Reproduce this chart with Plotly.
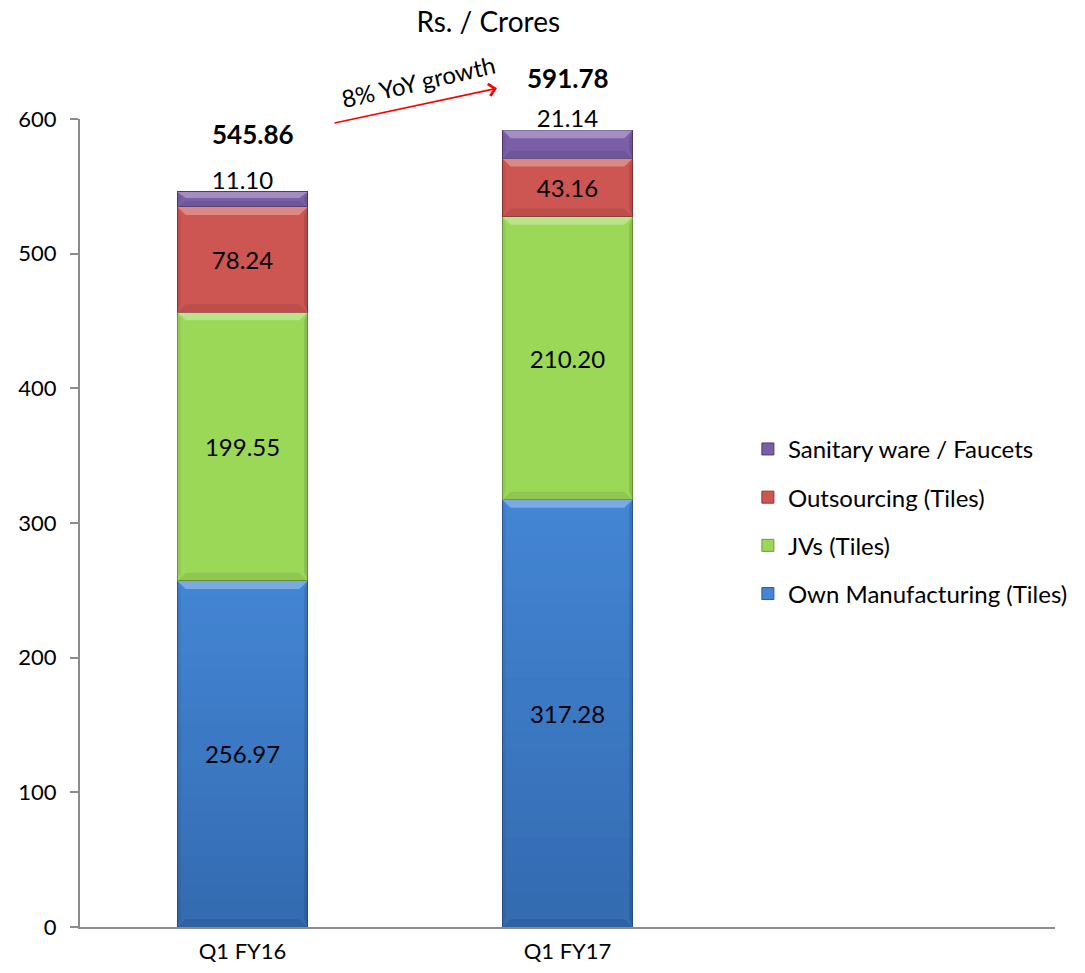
import plotly.graph_objects as go

# Revenue mix by business segment (Rs. / Crores)
quarters = ["Q1 FY16", "Q1 FY17"]
own_manufacturing = [256.97, 317.28]
jvs = [199.55, 210.20]
outsourcing = [78.24, 43.16]
sanitary = [11.10, 21.14]
totals = [545.86, 591.78]

series_names = [
    "Own Manufacturing (Tiles)",
    "JVs (Tiles)",
    "Outsourcing (Tiles)",
    "Sanitary ware / Faucets",
]
series_values = [own_manufacturing, jvs, outsourcing, sanitary]
series_colors = ["#4486D5", "#9CD858", "#CD5652", "#7A5EA6"]
edge_colors = ["#2C5A94", "#6E9A3A", "#8E3634", "#4F3A70"]
legend_ranks = [4, 3, 2, 1]

FONT = "Lato, 'Open Sans', sans-serif"
x_pos = list(range(len(quarters)))
BAR_W = 0.4
Y_MAX = 600

fig = go.Figure()

for name, vals, col, edge, rank in zip(series_names, series_values, series_colors,
                                       edge_colors, legend_ranks):
    is_top = name == "Sanitary ware / Faucets"
    fig.add_trace(
        go.Bar(
            x=x_pos,
            y=vals,
            width=BAR_W,
            name=name,
            legendgroup=name,
            legendrank=rank,
            marker=dict(color=col, line=dict(color=edge, width=1)),
            text=None if is_top else [f"{v:.2f}" for v in vals],
            textposition="none" if is_top else "inside",
            insidetextanchor="middle",
            textangle=0,
            constraintext="none",
            textfont=dict(family=FONT, size=24, color="black"),
            cliponaxis=False,
            hoverinfo="skip",
        )
    )

shapes = []

# Top-segment labels sit just above the bar and tuck behind its top edge
# (paper-referenced vertically so they are not clipped at the top of the plot)
for i in x_pos:
    top = sum(vals[i] for vals in series_values)
    shapes.append(dict(
        type="rect", xref="x", yref="paper", layer="below",
        x0=i - BAR_W / 2, x1=i + BAR_W / 2,
        y0=(top - 2) / Y_MAX, y1=(top + 20) / Y_MAX,
        line=dict(width=0), fillcolor="rgba(0,0,0,0)",
        label=dict(text=f"{sanitary[i]:.2f}", textposition="middle center",
                   font=dict(family=FONT, size=24, color="black")),
    ))

# Vertical shading on the own-manufacturing segment (darker toward the base)
N_STRIPS = 24
for i in x_pos:
    h = own_manufacturing[i]
    x0, x1 = i - BAR_W / 2, i + BAR_W / 2
    for k in range(N_STRIPS):
        y_lo = h * k / N_STRIPS
        y_hi = h * (k + 1) / N_STRIPS
        alpha = 0.24 * (1 - (k + 0.5) / N_STRIPS)
        shapes.append(dict(
            type="rect", xref="x", yref="y", layer="above",
            x0=x0, x1=x1, y0=y_lo, y1=y_hi,
            fillcolor=f"rgba(0,20,60,{alpha:.3f})", line=dict(width=0),
        ))

# Bevel highlights on every stacked segment, built from the stacked values
dy = 6.0
dx = 0.025
for i in x_pos:
    base = 0.0
    x0, x1 = i - BAR_W / 2, i + BAR_W / 2
    for vals in series_values:
        top = base + vals[i]
        d = min(dy, (top - base) / 2.5)
        # top light bevel
        shapes.append(dict(
            type="path", xref="x", yref="y", layer="above",
            path=f"M {x0},{top} L {x1},{top} L {x1 - dx},{top - d} L {x0 + dx},{top - d} Z",
            fillcolor="rgba(255,255,255,0.30)", line=dict(width=0),
        ))
        # bottom shade
        shapes.append(dict(
            type="path", xref="x", yref="y", layer="above",
            path=f"M {x0},{base} L {x1},{base} L {x1 - dx},{base + d} L {x0 + dx},{base + d} Z",
            fillcolor="rgba(0,0,0,0.08)", line=dict(width=0),
        ))
        # side shades
        shapes.append(dict(
            type="path", xref="x", yref="y", layer="above",
            path=f"M {x1},{base} L {x1},{top} L {x1 - dx * 0.4},{top - d} L {x1 - dx * 0.4},{base + d} Z",
            fillcolor="rgba(0,0,0,0.12)", line=dict(width=0),
        ))
        shapes.append(dict(
            type="path", xref="x", yref="y", layer="above",
            path=f"M {x0},{base} L {x0},{top} L {x0 + dx * 0.4},{top - d} L {x0 + dx * 0.4},{base + d} Z",
            fillcolor="rgba(0,0,0,0.06)", line=dict(width=0),
        ))
        base = top

annotations = []
# stacked totals
for i, t in zip(x_pos, totals):
    annotations.append(dict(
        x=i, y=t, xref="x", yref="y",
        text=f"<b>{t:.2f}</b>", showarrow=False,
        yanchor="bottom", yshift=40 if i == 0 else 34, xshift=10 if i == 0 else 0,
        font=dict(family=FONT, size=26, color="black"),
    ))

# growth arrow between the two totals
annotations.append(dict(
    x=0.783, y=1.038, xref="x", yref="paper",
    ax=-164, ay=35, axref="pixel", ayref="pixel",
    text="", showarrow=True, arrowhead=4, arrowsize=1.5, arrowwidth=1.6,
    arrowcolor="#FF0000",
))
annotations.append(dict(
    x=0.54, y=1.046, xref="x", yref="paper", xanchor="center", yanchor="middle",
    text="8% YoY growth", showarrow=False, textangle=-13,
    font=dict(family=FONT, size=24, color="black"),
))

fig.update_layout(
    width=1085,
    height=973,
    paper_bgcolor="white",
    plot_bgcolor="white",
    barmode="stack",
    margin=dict(l=80, r=28, t=119, b=46),
    title=dict(
        text="Rs. / Crores", x=0.45, xanchor="center", y=0.977, yanchor="middle",
        font=dict(family=FONT, size=28, color="black"),
    ),
    xaxis=dict(
        range=[-0.5, 2.5],
        tickmode="array",
        tickvals=x_pos,
        ticktext=quarters,
        showline=True, linecolor="#8C8C8C", linewidth=2,
        ticks="", showgrid=False, zeroline=False,
        ticklabelstandoff=4,
        automargin=False,
        tickfont=dict(family=FONT, size=22, color="black"),
        fixedrange=True,
    ),
    yaxis=dict(
        range=[0, Y_MAX],
        tickvals=[0, 100, 200, 300, 400, 500, 600],
        showline=True, linecolor="#8C8C8C", linewidth=2,
        ticks="outside", ticklen=8, tickcolor="#8C8C8C", tickwidth=2,
        ticklabelstandoff=9,
        automargin=False,
        showgrid=False, zeroline=False,
        tickfont=dict(family=FONT, size=22, color="black"),
        fixedrange=True,
    ),
    legend=dict(
        x=0.685, y=0.619, xanchor="left", yanchor="top",
        traceorder="grouped", tracegroupgap=14,
        font=dict(family=FONT, size=24, color="black"),
        itemwidth=30,
        bgcolor="rgba(0,0,0,0)",
    ),
    shapes=shapes,
    annotations=annotations,
    showlegend=True,
)

fig.write_html("out.html")
